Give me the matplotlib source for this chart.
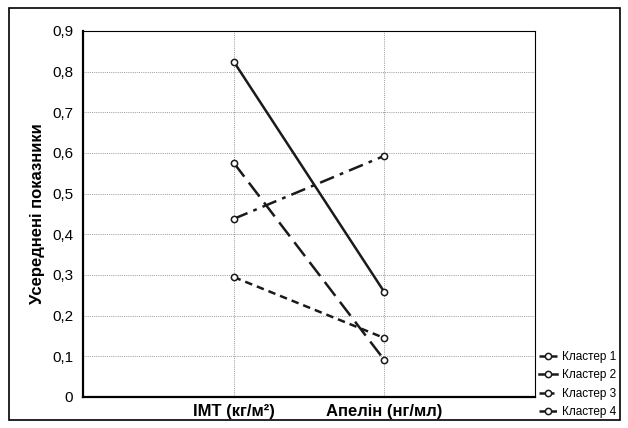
import matplotlib.pyplot as plt
from matplotlib.patches import Rectangle

plt.rcParams['font.family'] = ['Liberation Sans', 'DejaVu Sans']

categories = ["IMT (кг/м²)", "Апелін (нг/мл)"]
cluster_names = ["Кластер 1", "Кластер 2", "Кластер 3", "Кластер 4"]
cluster_1 = [0.295, 0.145]
cluster_2 = [0.825, 0.258]
cluster_3 = [0.438, 0.593]
cluster_4 = [0.576, 0.091]
y_ticks = [0, 0.1, 0.2, 0.3, 0.4, 0.5, 0.6, 0.7, 0.8, 0.9]
y_tick_labels = ["0", "0,1", "0,2", "0,3", "0,4", "0,5", "0,6", "0,7", "0,8", "0,9"]

fig = plt.figure(figsize=(6.28, 4.28), dpi=100)
ax = fig.add_axes([83 / 628, 31 / 428, 452 / 628, 366 / 428])

x = [1, 2]
styles = [(0, (3, 2)), "-", (0, (6, 2.5, 1.5, 2.5)), (0, (7, 3))]
series = [cluster_1, cluster_2, cluster_3, cluster_4]
for vals, name, ls in zip(series, cluster_names, styles):
    ax.plot(x, vals, linestyle=ls, color="#1a1a1a", lw=1.8,
            marker="o", ms=4.5, mfc="white", mec="#1a1a1a", mew=1.1,
            label=name, zorder=3)

ax.set_xlim(0, 3)
ax.set_ylim(0, 0.9)
ax.set_xticks(x)
ax.set_xticklabels(categories, fontsize=12, fontweight="bold")
ax.set_yticks(y_ticks)
ax.set_yticklabels(y_tick_labels, fontsize=11)
ax.tick_params(axis="y", length=0, pad=7)
ax.tick_params(axis="x", length=0, pad=5)
ax.set_ylabel("Усереднені показники", fontsize=12, fontweight="bold")
ax.yaxis.set_label_coords(-0.083, 0.5)
ax.grid(True, linestyle=(0, (1, 1.2)), color="#999999", lw=0.7)
ax.spines["left"].set_linewidth(1.6)
ax.spines["bottom"].set_linewidth(1.6)
ax.spines["top"].set_linewidth(0.8)
ax.spines["right"].set_linewidth(0.8)

leg = ax.legend(loc="lower left", bbox_to_anchor=(1.0, -0.068), frameon=False,
                handlelength=1.6, handletextpad=0.4,
                labelspacing=0.55, borderaxespad=0.0, borderpad=0.3,
                prop={"size": 8.5})

fig.patches.append(Rectangle((9 / 628, 8 / 428), 611 / 628, 412 / 428,
                             transform=fig.transFigure, fill=False,
                             edgecolor="black", lw=1.2))

fig.savefig("out.png", dpi=100)
